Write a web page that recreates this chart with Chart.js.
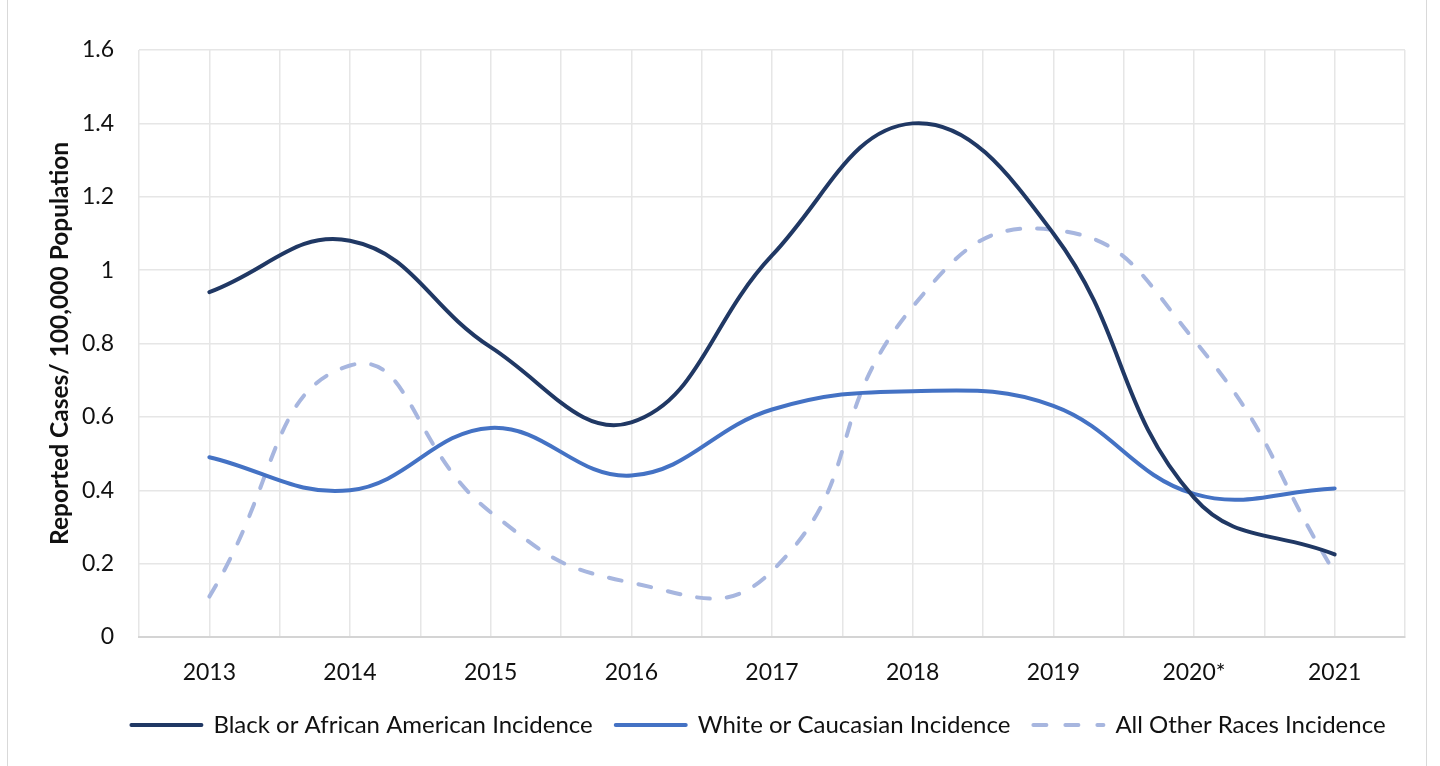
<!DOCTYPE html>
<html>
<head>
<meta charset="utf-8">
<script src="https://cdn.jsdelivr.net/npm/chart.js@4.4.1/dist/chart.umd.min.js"></script>
<style>
  html, body { margin: 0; padding: 0; background: #fff; }
  #frame { position: absolute; left: 7px; top: 0; width: 1420px; height: 766px;
           border-left: 1px solid #D9D9D9; border-right: 1px solid #D9D9D9; box-sizing: border-box; }
  #wrap { position: absolute; left: 0; top: 0; width: 1440px; height: 766px; }
</style>
</head>
<body>
<div id="frame"></div>
<div id="wrap"><canvas id="chart" width="1440" height="766"></canvas></div>
<script>
// Incidence per 100,000 population by year
const years = ['2013', '2014', '2015', '2016', '2017', '2018', '2019', '2020*', '2021'];
const blackIncidence = [0.94, 1.08, 0.79, 0.585, 1.04, 1.40, 1.10, 0.38, 0.225];
const whiteIncidence = [0.49, 0.40, 0.57, 0.44, 0.62, 0.67, 0.63, 0.39, 0.405];
const otherIncidence = [0.11, 0.74, 0.34, 0.148, 0.18, 0.90, 1.11, 0.81, 0.175];
const yTicks = [0, 0.2, 0.4, 0.6, 0.8, 1, 1.2, 1.4, 1.6];

const seriesNames = ['Black or African American Incidence', 'White or Caucasian Incidence', 'All Other Races Incidence'];

const FONT = 'Lato, "Open Sans", sans-serif';

function toPoints(values) {
  return values.map((v, i) => ({ x: i, y: v }));
}

// Centre the legend row a little right of the canvas centre, under the plot
const legendOffset = {
  id: 'legendOffset',
  afterLayout(chart, args, opts) {
    const lg = chart.legend;
    if (!lg) return;
    lg.left += opts.dx;
    lg.right += opts.dx;
  }
};

// Legend swatches drawn as line samples carrying each series' stroke style
function legendLabels(chart) {
  const items = Chart.defaults.plugins.legend.labels.generateLabels(chart);
  items.forEach((item) => {
    const ds = chart.data.datasets[item.datasetIndex];
    item.strokeStyle = ds.borderColor;
    item.lineWidth = ds.borderWidth;
    item.lineCap = 'round';
    item.lineDash = ds.borderDash ? [13, 19] : [];
    item.lineDashOffset = 0;
  });
  return items;
}

const ctx = document.getElementById('chart').getContext('2d');
new Chart(ctx, {
  type: 'line',
  data: {
    datasets: [
      {
        label: seriesNames[0],
        data: toPoints(blackIncidence),
        borderColor: '#203864',
        backgroundColor: '#203864',
        borderWidth: 4,
        borderCapStyle: 'round',
        tension: 0.42,
        pointRadius: 0,
        pointStyle: 'line'
      },
      {
        label: seriesNames[1],
        data: toPoints(whiteIncidence),
        borderColor: '#4472C4',
        backgroundColor: '#4472C4',
        borderWidth: 4,
        borderCapStyle: 'round',
        tension: 0.4,
        pointRadius: 0,
        pointStyle: 'line'
      },
      {
        label: seriesNames[2],
        data: toPoints(otherIncidence),
        borderColor: '#A7B6DF',
        backgroundColor: '#A7B6DF',
        borderWidth: 4,
        borderDash: [13, 17],
        borderCapStyle: 'round',
        tension: 0.5,
        pointRadius: 0,
        pointStyle: 'line'
      }
    ]
  },
  plugins: [legendOffset],
  options: {
    responsive: false,
    animation: false,
    layout: { padding: { left: 0, right: 35, top: 50, bottom: 19 } },
    plugins: {
      tooltip: { enabled: false },
      legendOffset: { dx: 56 },
      legend: {
        position: 'bottom',
        labels: {
          usePointStyle: true,
          pointStyleWidth: 70,
          boxHeight: 10,
          padding: 23,
          color: '#111',
          font: { family: FONT, size: 24 },
          generateLabels: legendLabels
        }
      }
    },
    scales: {
      x: {
        type: 'linear',
        min: -0.5,
        max: 8.5,
        afterBuildTicks: (scale) => {
          const ticks = [];
          for (let v = -0.5; v <= 8.5 + 1e-9; v += 0.5) ticks.push({ value: v });
          scale.ticks = ticks;
        },
        afterFit: (scale) => { scale.height = 53; },
        grid: { color: '#E6E6E6', lineWidth: 1.5, drawTicks: false },
        border: { display: true, color: '#D4D4D4', width: 2 },
        ticks: {
          autoSkip: false,
          maxRotation: 0,
          padding: 22,
          color: '#111',
          font: { family: FONT, size: 23 },
          callback: (v) => Number.isInteger(v) ? years[v] : ''
        }
      },
      y: {
        min: 0,
        max: 1.6,
        afterBuildTicks: (scale) => { scale.ticks = yTicks.map(v => ({ value: v })); },
        afterFit: (scale) => { scale.width = 139; },
        grid: { color: '#E6E6E6', lineWidth: 1.5, drawTicks: false },
        border: { display: false },
        ticks: {
          padding: 25,
          color: '#111',
          font: { family: FONT, size: 23 },
          callback: (v) => String(Math.round(v * 10) / 10)
        },
        title: {
          display: true,
          text: 'Reported Cases/ 100,000 Population',
          color: '#111',
          font: { family: FONT, size: 24.5, weight: 'bold' },
          padding: { top: 45, bottom: 0 }
        }
      }
    }
  }
});
</script>
</body>
</html>
